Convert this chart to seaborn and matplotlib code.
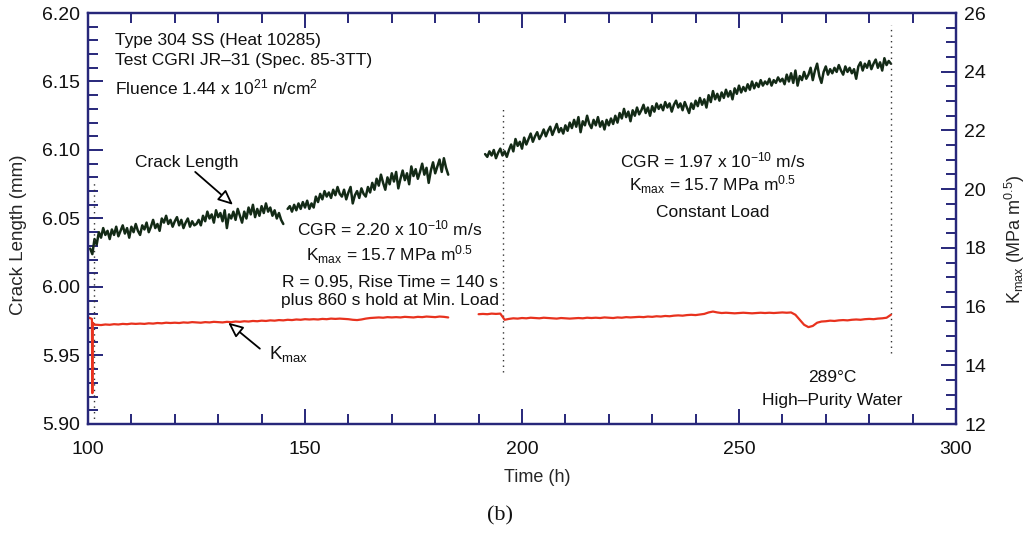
import numpy as np
import pandas as pd
import seaborn as sns
import matplotlib
matplotlib.use("Agg")
import matplotlib.pyplot as plt
from matplotlib.ticker import MultipleLocator

# ---- crack length (mm), sampled every 0.5 h ----
crack_t1a = np.arange(100.5, 145.01, 0.5)
crack_1a = [
    6.028, 6.024, 6.035, 6.031, 6.040, 6.036, 6.043, 6.038, 6.041, 6.035,
    6.042, 6.038, 6.044, 6.037, 6.041, 6.045, 6.039, 6.043, 6.036, 6.044,
    6.040, 6.046, 6.041, 6.038, 6.045, 6.042, 6.047, 6.040, 6.044, 6.049,
    6.043, 6.046, 6.041, 6.050, 6.047, 6.052, 6.046, 6.049, 6.044, 6.048,
    6.051, 6.045, 6.049, 6.043, 6.047, 6.050, 6.044, 6.048, 6.045, 6.046,
    6.049, 6.045, 6.052, 6.048, 6.055, 6.050, 6.053, 6.047, 6.056, 6.051,
    6.054, 6.048, 6.056, 6.043, 6.053, 6.050, 6.055, 6.049, 6.057, 6.052,
    6.047, 6.055, 6.050, 6.058, 6.053, 6.060, 6.051, 6.057, 6.052, 6.059,
    6.054, 6.061, 6.055, 6.058, 6.052, 6.056, 6.050, 6.054, 6.049, 6.046,
]
crack_t1b = np.arange(146.0, 183.01, 0.5)
crack_1b = [
    6.057, 6.059, 6.055, 6.060, 6.056, 6.061, 6.057, 6.062, 6.058,
    6.063, 6.057, 6.061, 6.058, 6.066, 6.062, 6.068, 6.064, 6.070, 6.066,
    6.069, 6.065, 6.071, 6.067, 6.073, 6.068, 6.066, 6.071, 6.064, 6.069,
    6.073, 6.061, 6.067, 6.070, 6.065, 6.072, 6.068, 6.066, 6.073, 6.069,
    6.076, 6.071, 6.079, 6.074, 6.082, 6.076, 6.071, 6.080, 6.075, 6.083,
    6.077, 6.084, 6.072, 6.079, 6.085, 6.078, 6.083, 6.075, 6.088, 6.081,
    6.086, 6.079, 6.084, 6.090, 6.082, 6.087, 6.076, 6.085, 6.091, 6.083,
    6.088, 6.093, 6.084, 6.094, 6.087, 6.082,
]
crack_t2 = np.arange(191.5, 285.01, 0.5)
crack_2 = [
    6.097, 6.095, 6.099, 6.096, 6.100, 6.094, 6.098, 6.101, 6.096, 6.099,
    6.095, 6.100, 6.104, 6.099, 6.108, 6.103, 6.106, 6.101, 6.109, 6.104,
    6.108, 6.112, 6.106, 6.110, 6.113, 6.108, 6.111, 6.115, 6.110, 6.114,
    6.117, 6.111, 6.115, 6.119, 6.113, 6.116, 6.112, 6.118, 6.114, 6.120,
    6.116, 6.122, 6.117, 6.124, 6.113, 6.121, 6.118, 6.125, 6.119, 6.116,
    6.122, 6.118, 6.124, 6.117, 6.121, 6.115, 6.122, 6.118, 6.123, 6.119,
    6.125, 6.120, 6.127, 6.123, 6.130, 6.124, 6.128, 6.121, 6.129, 6.125,
    6.131, 6.126, 6.129, 6.133, 6.127, 6.131, 6.125, 6.132, 6.128, 6.134,
    6.130, 6.133, 6.129, 6.135, 6.131, 6.134, 6.128, 6.133, 6.136, 6.131,
    6.134, 6.129, 6.135, 6.131, 6.127, 6.134, 6.130, 6.136, 6.132, 6.138,
    6.133, 6.137, 6.131, 6.140, 6.135, 6.143, 6.137, 6.141, 6.136, 6.142,
    6.138, 6.144, 6.139, 6.143, 6.137, 6.145, 6.141, 6.147, 6.142, 6.146,
    6.143, 6.148, 6.144, 6.150, 6.145, 6.149, 6.146, 6.151, 6.147, 6.150,
    6.148, 6.152, 6.147, 6.151, 6.149, 6.153, 6.150, 6.152, 6.148, 6.155,
    6.150, 6.156, 6.149, 6.158, 6.147, 6.154, 6.151, 6.157, 6.152, 6.155,
    6.160, 6.151, 6.158, 6.163, 6.154, 6.149, 6.157, 6.161, 6.155, 6.159,
    6.156, 6.160, 6.157, 6.162, 6.158, 6.155, 6.161, 6.157, 6.160, 6.156,
    6.159, 6.152, 6.161, 6.164, 6.158, 6.163, 6.160, 6.165, 6.159, 6.163,
    6.166, 6.160, 6.164, 6.158, 6.167, 6.162, 6.165, 6.163,
]

# ---- K_max (MPa m^0.5) ----
kmax_start_t = [100.2, 100.9, 101.0, 101.1, 101.5]
kmax_start = [15.62, 15.58, 13.05, 15.45, 15.38]
kmax_t1 = np.arange(102, 184, 1)
kmax_1 = [
    15.38, 15.37, 15.39, 15.38, 15.40, 15.39, 15.41, 15.40, 15.42, 15.41,
    15.42, 15.41, 15.43, 15.42, 15.44, 15.43, 15.45, 15.44, 15.45, 15.44,
    15.46, 15.45, 15.47, 15.46, 15.45, 15.47, 15.46, 15.48, 15.47, 15.46,
    15.48, 15.47, 15.49, 15.48, 15.50, 15.49, 15.51, 15.50, 15.52, 15.51,
    15.53, 15.52, 15.54, 15.53, 15.55, 15.54, 15.56, 15.55, 15.57, 15.56,
    15.57, 15.56, 15.58, 15.57, 15.59, 15.58, 15.59, 15.58, 15.57, 15.55,
    15.54, 15.56, 15.59, 15.61, 15.62, 15.63, 15.62, 15.64, 15.63, 15.64,
    15.63, 15.65, 15.64, 15.63, 15.65, 15.64, 15.66, 15.65, 15.64, 15.66,
    15.65, 15.63,
]
kmax_t2 = np.arange(190, 286, 1)
kmax_2 = [
    15.74, 15.75, 15.74, 15.76, 15.75, 15.76,
    15.55, 15.58, 15.60, 15.59, 15.61, 15.60, 15.62, 15.61, 15.60, 15.62,
    15.61, 15.60, 15.59, 15.61, 15.60, 15.59, 15.60, 15.61, 15.60, 15.62,
    15.61, 15.62, 15.61, 15.63, 15.62, 15.61, 15.63, 15.62, 15.64, 15.63,
    15.64, 15.65, 15.64, 15.66, 15.65, 15.67, 15.66, 15.68, 15.67, 15.69,
    15.70, 15.69, 15.71, 15.72, 15.71, 15.73, 15.75, 15.80, 15.83, 15.80,
    15.78, 15.79, 15.78, 15.77, 15.78, 15.79, 15.78, 15.77, 15.78, 15.79,
    15.78, 15.79, 15.78, 15.79, 15.80, 15.79, 15.80, 15.72, 15.55, 15.38,
    15.30, 15.34, 15.45, 15.49, 15.50, 15.52, 15.51, 15.53, 15.54, 15.53,
    15.55, 15.56, 15.55, 15.57, 15.58, 15.57, 15.59, 15.60, 15.62, 15.72,
]

# dotted markers separating test periods: (time, lower, upper) in mm
marker_t = [101.3, 195.6, 285.0]
marker_lo = [5.900, 5.938, 5.952]
marker_hi = [6.078, 6.131, 6.191]

sns.set_style("ticks")
plt.rcParams["font.family"] = ["Liberation Sans", "DejaVu Sans"]
plt.rcParams["mathtext.fontset"] = "custom"
plt.rcParams["mathtext.rm"] = "Liberation Sans"
plt.rcParams["mathtext.it"] = "Liberation Sans:italic"

NAVY = "#27277a"
GREEN = "#132a16"
RED = "#e8321e"

fig = plt.figure(figsize=(10.29, 5.33), dpi=100)
ax = fig.add_axes([88 / 1029, 1 - 424 / 533, 868 / 1029, 411 / 533])
ax2 = ax.twinx()

for t, v in [(crack_t1a, crack_1a), (crack_t1b, crack_1b), (crack_t2, crack_2)]:
    df = pd.DataFrame({"Time": t, "Crack": v})
    sns.lineplot(data=df, x="Time", y="Crack", ax=ax, color=GREEN,
                 linewidth=1.8, estimator=None, sort=False)

k1_t = np.concatenate([kmax_start_t, kmax_t1])
k1_v = np.concatenate([kmax_start, kmax_1])
for t, v in [(k1_t, k1_v), (kmax_t2, kmax_2)]:
    df = pd.DataFrame({"Time": t, "Kmax": v})
    sns.lineplot(data=df, x="Time", y="Kmax", ax=ax2, color=RED,
                 linewidth=1.6, estimator=None, sort=False)

for t, lo, hi in zip(marker_t, marker_lo, marker_hi):
    ax.plot([t, t], [lo, hi], color="#333333", linewidth=1.0,
            linestyle=(0, (1, 3)))

ax.set_xlim(100, 300)
ax.set_ylim(5.90, 6.20)
ax2.set_ylim(12, 26)

ax.xaxis.set_major_locator(MultipleLocator(50))
ax.xaxis.set_minor_locator(MultipleLocator(10))
ax.yaxis.set_major_locator(MultipleLocator(0.05))
ax.yaxis.set_minor_locator(MultipleLocator(0.01))
ax2.yaxis.set_major_locator(MultipleLocator(2))
ax2.yaxis.set_minor_locator(MultipleLocator(0.5))
ax.yaxis.set_major_formatter(plt.FormatStrFormatter("%.2f"))

for a in (ax, ax2):
    for s in a.spines.values():
        s.set_color(NAVY)
        s.set_linewidth(1.6)
ax.tick_params(axis="both", which="both", direction="in", color=NAVY,
               width=1.4, labelsize=14, labelcolor="#111111")
ax.tick_params(axis="x", which="both", top=True, pad=12)
ax.tick_params(axis="x", which="major", length=11)
ax.tick_params(axis="x", which="minor", length=7)
ax.tick_params(axis="y", which="major", length=11, pad=6)
ax.tick_params(axis="y", which="minor", length=7)
ax2.tick_params(axis="y", which="both", direction="in", color=NAVY,
                width=1.4, labelsize=14, labelcolor="#111111", pad=6)
ax2.tick_params(axis="y", which="major", length=11)
ax2.tick_params(axis="y", which="minor", length=7)

ax.set_xlabel("Time (h)", fontsize=13)
ax.xaxis.set_label_coords(0.517, -0.11)
ax.set_ylabel("Crack Length (mm)", fontsize=13.5)
ax.yaxis.set_label_coords(-0.07, 0.46)
ax2.set_ylabel(r"K$_{\mathrm{max}}$ (MPa m$^{0.5}$)", fontsize=13)
ax2.yaxis.set_label_coords(1.054, 0.45)

txt = dict(fontsize=12.5, color="#111111")
ax.text(106.2, 6.180, "Type 304 SS (Heat 10285)", ha="left", va="center", **txt)
ax.text(106.2, 6.165, "Test CGRI JR\u201331 (Spec. 85-3TT)", ha="left", va="center", **txt)
ax.text(106.2, 6.146, r"Fluence 1.44 x 10$^{21}$ n/cm$^{2}$", ha="left", va="center", **txt)

ax.text(122.8, 6.091, "Crack Length", ha="center", va="center", **txt)
arrow = dict(arrowstyle="-|>,head_length=0.9,head_width=0.4", fc="white",
             ec="black", lw=1.3, shrinkA=0, shrinkB=0)
ax.annotate("", xy=(133.4, 6.060), xytext=(124.7, 6.084), arrowprops=arrow)
ax.text(146.3, 5.951, r"K$_{\mathrm{max}}$", ha="center", va="center",
        fontsize=13.5, color="#111111")
ax.annotate("", xy=(132.3, 5.974), xytext=(139.6, 5.955), arrowprops=arrow)

ax.text(169.6, 6.043, r"CGR = 2.20 x 10$^{-10}$ m/s", ha="center", va="center", **txt)
ax.text(169.6, 6.0235, r"K$_{\mathrm{max}}$ = 15.7 MPa m$^{0.5}$", ha="center", va="center", **txt)
ax.text(169.6, 6.0036, "R = 0.95, Rise Time = 140 s", ha="center", va="center", **txt)
ax.text(169.6, 5.9905, "plus 860 s hold at Min. Load", ha="center", va="center", **txt)

ax.text(244.0, 6.0927, r"CGR = 1.97 x 10$^{-10}$ m/s", ha="center", va="center", **txt)
ax.text(244.0, 6.0745, r"K$_{\mathrm{max}}$ = 15.7 MPa m$^{0.5}$", ha="center", va="center", **txt)
ax.text(244.0, 6.0547, "Constant Load", ha="center", va="center", **txt)

ax.text(271.4, 5.9336, "289\u00b0C", ha="center", va="center", **txt)
ax.text(271.4, 5.9175, "High\u2013Purity Water", ha="center", va="center", **txt)

fig.text(500 / 1029, 1 - 516 / 533, "(b)", ha="center", va="center",
         fontsize=16, family=["Liberation Serif", "DejaVu Serif"], color="#111111")

fig.savefig("out.png", dpi=100, facecolor="white")
